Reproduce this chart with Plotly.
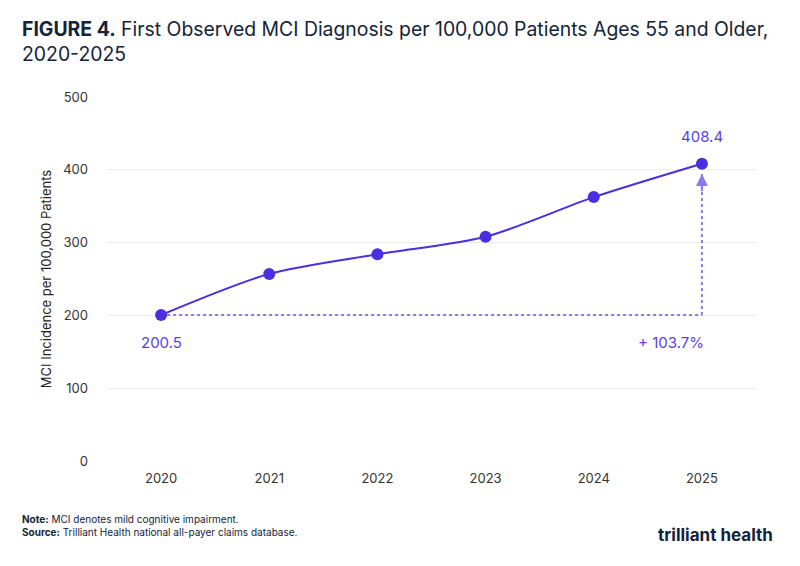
import plotly.graph_objects as go

years = ["2020", "2021", "2022", "2023", "2024", "2025"]
values = [200.5, 257, 284, 308, 362.5, 408.4]
y_ticks = [0, 100, 200, 300, 400, 500]
start_label = "200.5"
end_label = "408.4"
change_label = "+ 103.7%"

x_idx = list(range(len(years)))
LINE = "#4a2fe0"
DOT = "#8d78f0"
LBL = "#5a3fe8"
NAVY = "#13233a"
FONT = "Inter, Roboto, sans-serif"

fig = go.Figure()

fig.add_trace(go.Scatter(x=[x_idx[0], x_idx[-1]], y=[values[0], values[0]], mode="lines",
                         line=dict(color=DOT, width=2, dash="dot"), hoverinfo="skip", showlegend=False))
fig.add_trace(go.Scatter(x=[x_idx[-1], x_idx[-1]], y=[values[0], values[-1] - 14], mode="lines",
                         line=dict(color=DOT, width=2, dash="dot"), hoverinfo="skip", showlegend=False))

fig.add_trace(go.Scatter(x=x_idx, y=values, mode="lines+markers",
                         line=dict(color=LINE, width=2, shape="spline", smoothing=0.8),
                         marker=dict(color=LINE, size=12),
                         showlegend=False))

fig.add_annotation(x=x_idx[-1], y=values[-1] - 14, ax=x_idx[-1], ay=values[-1] - 40,
                   xref="x", yref="y", axref="x", ayref="y", text="", showarrow=True,
                   arrowhead=2, arrowsize=1.2, arrowwidth=2, arrowcolor=DOT)

fig.add_annotation(x=x_idx[0], y=values[0], text=start_label, showarrow=False, yshift=-27,
                   font=dict(family=FONT, size=15, color=LBL))
fig.add_annotation(x=x_idx[-1], y=values[-1], text=end_label, showarrow=False, yshift=27,
                   font=dict(family=FONT, size=15, color=LBL))
fig.add_annotation(x=x_idx[-1], y=values[0], text=change_label, showarrow=False, yshift=-27,
                   xanchor="right", xshift=4,
                   font=dict(family=FONT, size=15, color=LBL))

fig.add_annotation(xref="paper", yref="paper", x=-0.1338, y=1.225, xanchor="left", yanchor="top",
                   align="left", showarrow=False,
                   text="<b>FIGURE 4.</b> First Observed MCI Diagnosis per 100,000 Patients Ages 55 and Older,<br>2020-2025",
                   font=dict(family=FONT, size=19.4, color=NAVY))

fig.add_annotation(xref="paper", yref="paper", x=-0.134, y=-0.138, xanchor="left", yanchor="top",
                   align="left", showarrow=False,
                   text="<b>Note:</b> MCI denotes mild cognitive impairment.<br><b>Source:</b> Trilliant Health national all-payer claims database.",
                   font=dict(family=FONT, size=10, color=NAVY))

fig.add_annotation(xref="paper", yref="paper", x=1.03, y=-0.17, xanchor="right", yanchor="top",
                   showarrow=False, text="<b>trilliant health</b>",
                   font=dict(family="Inter, Roboto, sans-serif", size=17, color=NAVY))

fig.update_layout(
    width=800, height=566,
    margin=dict(l=107, r=44, t=97, b=105),
    paper_bgcolor="white", plot_bgcolor="white",
    font=dict(family=FONT, color="#333"),
    xaxis=dict(range=[-0.5, 5.5], tickmode="array", tickvals=x_idx, ticktext=years,
               showgrid=False, zeroline=False, showline=False,
               tickfont=dict(size=13, color="#333"), ticks="", ticklabelstandoff=8),
    yaxis=dict(range=[0, 500], tickvals=y_ticks, showgrid=True, gridcolor="#ececec", gridwidth=1,
               zeroline=False, showline=False, tickfont=dict(size=13, color="#333"),
               ticklabelstandoff=18,
               title=dict(text="MCI Incidence per 100,000 Patients", font=dict(size=13, color="#222"), standoff=8)),
)

fig.write_html("out.html")
